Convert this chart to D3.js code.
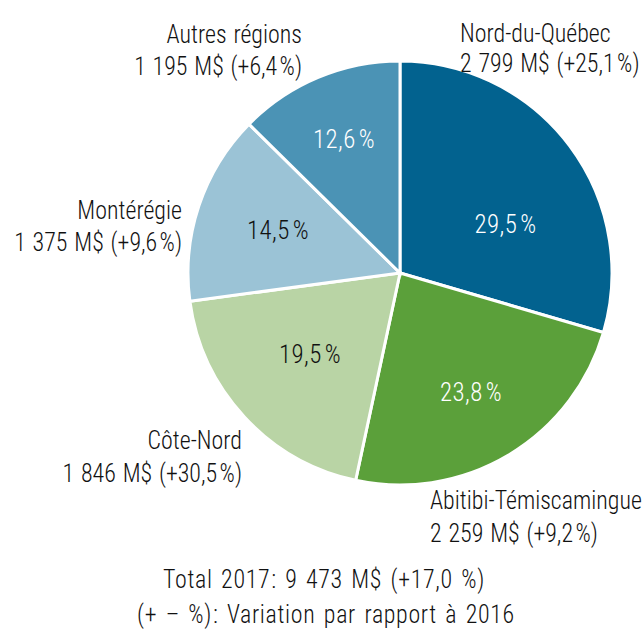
<!DOCTYPE html>
<html><head><meta charset="utf-8">
<script src="https://cdn.jsdelivr.net/npm/d3@7/dist/d3.min.js"></script>
<style>
html,body{margin:0;padding:0;background:#fff;}
text{font-family:"Liberation Sans Narrow","Roboto Condensed","Liberation Sans",Arial,sans-serif;font-weight:300;}
</style></head>
<body>
<svg id="chart" width="644" height="632"></svg>
<script>
// ---- data ----
const regions = ["Nord-du-Québec","Abitibi-Témiscamingue","Côte-Nord","Montérégie","Autres régions"];
const shares  = [29.5, 23.8, 19.5, 14.5, 12.6];
const amounts = ["2 799 M$ (+25,1|%)","2 259 M$ (+9,2|%)","1 846 M$ (+30,5|%)","1 375 M$ (+9,6|%)","1 195 M$ (+6,4|%)"];
const shareLabels = ["29,5|%","23,8|%","19,5|%","14,5|%","12,6|%"];
const footnotes = ["Total 2017|: 9 473 M$ (+17,0 %)","(+ – %)|: Variation par rapport à 2016"];
// "|" marks a thin gap (French typographic thin space)

// ---- style / layout ----
const colors = ["#02628f","#5ba03a","#b9d4a5","#9bc3d6","#4b93b5"];
const pctFill = ["#fff","#fff","#111","#111","#fff"];
const cx = 400, cy = 273, R = 212;
const pctOffset = [[105.5,-50],[71,118],[-90,80],[-122,-44],[-56,-135]];
// outer label: anchor x, first baseline, second baseline, anchor
const outer = [
  [460, 42, 72, "start"],
  [430, 509, 542, "start"],
  [242, 449, 482, "end"],
  [182, 219, 251, "end"],
  [302, 43, 75, "end"]
];
const FS = 25, FSP = 26;
const ink = "#111";

const svg = d3.select("#chart");
// horizontal scale so that text width matches the reference's condensed face
const probe = svg.append("text").attr("font-size", FS).attr("word-spacing", 1.5).text("Abitibi-Témiscamingue");
const sx = 212 / probe.node().getComputedTextLength();
probe.remove();

const pie = d3.pie().sort(null).value(d => d).startAngle(0).endAngle(2*Math.PI);
const arc = d3.arc().innerRadius(0).outerRadius(R);
const g = svg.append("g").attr("transform", `translate(${cx},${cy})`);
const arcs = pie(shares);
g.selectAll("path").data(arcs).join("path")
  .attr("d", arc).attr("fill", (d,i) => colors[i])
  .attr("stroke", "#fff").attr("stroke-width", 3).attr("stroke-linejoin","miter");

function txt(x, y, s, anchor, fill, fs, ws, ls, gap){
  const t = svg.append("text")
    .attr("transform", `translate(${x},${y}) scale(${sx},1)`)
    .attr("text-anchor", anchor).attr("font-size", fs || FS)
    .attr("word-spacing", ws == null ? 1.5 : ws)
    .attr("letter-spacing", ls || 0)
    .attr("fill", fill);
  s.split("|").forEach((part, k) => {
    t.append("tspan").attr("dx", k ? (gap || 2.5) : 0).text(part);
  });
}
shareLabels.forEach((s,i) => txt(cx + pctOffset[i][0], cy + pctOffset[i][1] + 9.5, s, "middle", pctFill[i], FSP, 0, 0.5, 3));
regions.forEach((s,i) => {
  const o = outer[i];
  txt(o[0], o[1], s, o[3], ink);
  txt(o[0], o[2], amounts[i], o[3], ink);
});
txt(324, 588, footnotes[0], "middle", ink, FS, 2.5, 0.7, 1);
txt(326, 623, footnotes[1], "middle", ink, FS, 2.5, 0.7, 1);
</script>
</body></html>
